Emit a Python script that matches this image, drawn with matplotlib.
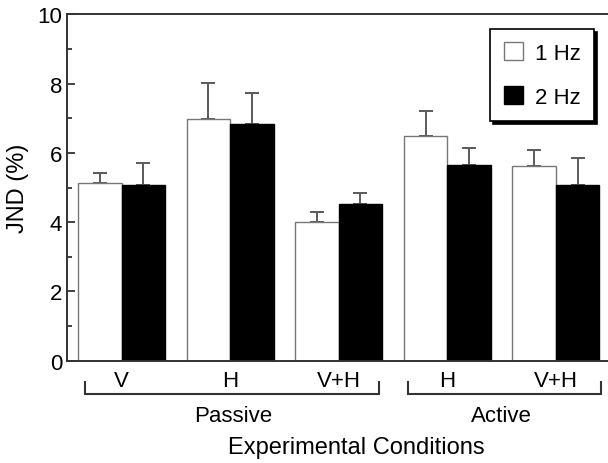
import matplotlib
matplotlib.use("Agg")
import matplotlib.pyplot as plt
import numpy as np

plt.rcParams['font.family'] = ['Liberation Sans', 'DejaVu Sans']

conditions = ["V", "H", "V+H", "H", "V+H"]
groups = ["Passive", "Active"]
jnd_1hz = [5.13, 6.98, 3.99, 6.50, 5.61]
err_1hz = [0.29, 1.04, 0.31, 0.71, 0.48]
jnd_2hz = [5.07, 6.83, 4.52, 5.64, 5.07]
err_2hz = [0.64, 0.91, 0.33, 0.50, 0.79]
series_labels = ["1 Hz", "2 Hz"]

fig = plt.figure(figsize=(6.08, 4.64), dpi=100)
ax = fig.add_axes([67.3/608, (464-361.7)/464, (608-67.3)/608, 346.4/464])

x = np.arange(len(conditions))
w = 0.4
spine_c = '#333333'
err_c = '#5a5a5a'
fs = 16

ax.bar(x - w/2, jnd_1hz, w, color='white', edgecolor='#777777', linewidth=1.0,
       label=series_labels[0], zorder=2)
ax.bar(x + w/2, jnd_2hz, w, color='black', edgecolor='black', linewidth=1.0,
       label=series_labels[1], zorder=2)
ax.errorbar(x - w/2, jnd_1hz, yerr=[np.zeros(len(x)), err_1hz], fmt='none',
            ecolor=err_c, elinewidth=1.4, capsize=4.8, capthick=1.4, zorder=1)
ax.errorbar(x + w/2, jnd_2hz, yerr=[np.zeros(len(x)), err_2hz], fmt='none',
            ecolor=err_c, elinewidth=1.4, capsize=4.8, capthick=1.4, zorder=1)

ax.set_xlim(-0.5, 4.48)
ax.set_ylim(0, 10)
ax.set_yticks([0, 2, 4, 6, 8, 10])
ax.set_yticks([1, 3, 5, 7, 9], minor=True)
ax.tick_params(axis='y', which='major', direction='in', length=5.8, width=1.3,
               color=spine_c, labelsize=fs, pad=3.6)
ax.tick_params(axis='y', which='minor', direction='in', length=3.6, width=1.3, color=spine_c)
ax.set_xticks(x)
ax.set_xticklabels(conditions)
ax.tick_params(axis='x', length=0, labelsize=fs, pad=7)

ax.spines['right'].set_visible(False)
for s in ['left', 'bottom', 'top']:
    ax.spines[s].set_color(spine_c)
    ax.spines[s].set_linewidth(1.4)

ax.set_ylabel("JND (%)", fontsize=17)
ax.yaxis.set_label_coords(-0.0705, 0.5)

tr = ax.get_xaxis_transform()
y_top, y_bot = -0.0615, -0.0967
for (x0, x1), name, xc in [((-0.34, 2.37), groups[0], 1.03), ((2.636, 4.415), groups[1], 3.50)]:
    ax.plot([x0, x0, x1, x1], [y_top, y_bot, y_bot, y_top], color=spine_c, lw=1.5,
            transform=tr, clip_on=False, solid_joinstyle='miter')
    ax.text(xc, -0.157, name, transform=tr, ha='center', va='center', fontsize=fs)

ax.text(2.16, -0.249, "Experimental Conditions", transform=tr, ha='center',
        va='center', fontsize=17)

leg = ax.legend(loc='upper right', bbox_to_anchor=(594/608, 1 - 30/464),
                bbox_transform=fig.transFigure, fontsize=fs, frameon=True,
                fancybox=False, edgecolor='black', shadow={'color': 'black', 'alpha': 1.0},
                handlelength=0.85, handleheight=0.85, handletextpad=0.55,
                labelspacing=1.0, borderpad=0.6, borderaxespad=0)
leg.get_frame().set_linewidth(1.2)

fig.savefig("out.png", dpi=100)
